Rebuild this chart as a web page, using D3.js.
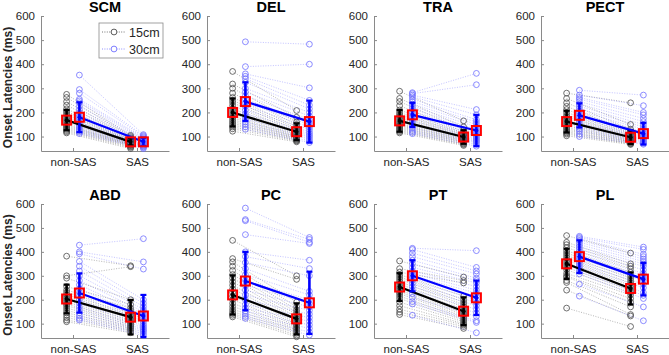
<!DOCTYPE html>
<html>
<head>
<meta charset="utf-8">
<script src="https://cdn.jsdelivr.net/npm/d3@7"></script>
<style>
  body { margin: 0; background: #fff; }
  svg { font-family: "Liberation Sans", Arial, sans-serif; }
</style>
</head>
<body>
<div id="chart"></div>
<script>
// categories / labels
const muscles = ["SCM", "DEL", "TRA", "PECT", "ABD", "PC", "PT", "PL"];
const conditions = ["non-SAS", "SAS"];
const distances = ["15cm", "30cm"];
const yTicks = [100, 200, 300, 400, 500, 600];

// group means read from the red squares (15cm / 30cm, non-SAS / SAS)
const mean15Non = [168, 200, 165, 162, 203, 220, 253, 350];
const mean15Sas = [78, 120, 98, 97, 127, 120, 152, 247];
const mean30Non = [180, 245, 190, 188, 228, 278, 300, 380];
const mean30Sas = [78, 162, 125, 112, 132, 187, 208, 286];
// error bar half lengths (SD)
const sd15Non = [42, 58, 45, 45, 60, 82, 58, 63];
const sd15Sas = [15, 35, 28, 28, 72, 65, 58, 67];
const sd30Non = [62, 80, 50, 50, 82, 122, 65, 68];
const sd30Sas = [17, 87, 65, 45, 88, 130, 72, 68];

// individual subjects, one array per muscle / distance / condition
const scm15Non = [275, 262, 245, 230, 215, 205, 198, 190, 180, 172, 165, 158, 150, 145, 140, 135, 130, 125, 120, 115];
const scm15Sas = [105, 100, 95, 92, 88, 85, 82, 80, 78, 76, 74, 72, 70, 68, 66, 64, 62, 58, 55, 50];
const scm30Non = [355, 295, 280, 255, 248, 240, 225, 212, 200, 190, 180, 170, 160, 152, 145, 138, 130, 125, 118, 112];
const scm30Sas = [108, 104, 100, 96, 92, 88, 85, 82, 79, 76, 74, 72, 70, 68, 65, 62, 60, 57, 54, 50];

const del15Non = [370, 318, 300, 280, 262, 250, 240, 228, 215, 205, 195, 185, 178, 170, 162, 155, 148, 140, 132, 122];
const del15Sas = [208, 180, 160, 150, 142, 135, 128, 122, 118, 112, 108, 104, 100, 97, 94, 91, 88, 85, 82, 78];
const del30Non = [493, 390, 360, 350, 340, 325, 300, 285, 270, 255, 240, 225, 210, 195, 185, 172, 160, 150, 140, 130];
const del30Sas = [483, 400, 302, 250, 230, 215, 200, 185, 170, 160, 150, 140, 130, 120, 112, 105, 98, 90, 82, 75];

const tra15Non = [288, 258, 245, 228, 210, 200, 192, 185, 178, 170, 162, 155, 150, 145, 140, 135, 130, 125, 120, 115];
const tra15Sas = [165, 140, 128, 120, 115, 110, 106, 102, 98, 95, 92, 89, 86, 83, 80, 77, 74, 70, 67, 63];
const tra30Non = [282, 278, 272, 265, 255, 245, 235, 225, 215, 205, 195, 185, 175, 165, 155, 145, 135, 125, 118, 112];
const tra30Sas = [362, 315, 212, 190, 170, 160, 150, 140, 130, 122, 115, 108, 102, 96, 90, 85, 80, 75, 68, 60];

const pect15Non = [280, 258, 240, 225, 212, 200, 190, 182, 175, 168, 160, 152, 145, 138, 132, 126, 120, 115, 110, 103];
const pect15Sas = [240, 150, 130, 120, 115, 110, 105, 101, 98, 95, 92, 89, 86, 83, 80, 78, 75, 72, 70, 67];
const pect30Non = [292, 272, 262, 255, 245, 235, 225, 215, 205, 195, 185, 175, 165, 155, 145, 138, 130, 122, 110, 100];
const pect30Sas = [272, 228, 200, 190, 175, 162, 150, 140, 130, 120, 112, 105, 100, 95, 90, 85, 80, 76, 72, 68];

const abd15Non = [382, 300, 290, 255, 240, 230, 220, 212, 205, 198, 190, 182, 175, 165, 155, 145, 135, 125, 115, 108];
const abd15Sas = [342, 338, 200, 180, 165, 155, 145, 138, 130, 122, 115, 108, 102, 96, 90, 85, 80, 75, 70, 62];
const abd30Non = [428, 400, 392, 360, 340, 320, 300, 280, 262, 245, 230, 215, 200, 185, 170, 158, 145, 132, 122, 115];
const abd30Sas = [455, 358, 328, 200, 185, 172, 160, 150, 140, 130, 120, 110, 100, 92, 85, 78, 72, 66, 58, 50];

const pc15Non = [448, 372, 358, 340, 322, 305, 290, 275, 260, 245, 230, 215, 200, 185, 172, 160, 150, 142, 135, 128];
const pc15Sas = [300, 285, 190, 170, 158, 148, 138, 128, 120, 112, 105, 98, 92, 86, 80, 74, 68, 60, 52, 45];
const pc30Non = [583, 535, 530, 472, 400, 380, 355, 330, 305, 280, 260, 240, 220, 200, 180, 165, 152, 140, 130, 122];
const pc30Sas = [460, 452, 440, 435, 365, 330, 300, 235, 220, 200, 185, 170, 155, 140, 125, 110, 95, 80, 65, 52];

const pt15Non = [362, 330, 315, 305, 295, 285, 275, 265, 255, 248, 240, 232, 225, 215, 205, 190, 175, 160, 148, 138];
const pt15Sas = [295, 280, 270, 215, 200, 190, 180, 170, 160, 152, 145, 138, 130, 122, 115, 108, 100, 95, 88, 80];
const pt30Non = [415, 410, 395, 380, 365, 350, 335, 320, 310, 300, 290, 280, 268, 255, 240, 225, 210, 192, 182, 135];
const pt30Sas = [405, 335, 320, 308, 290, 280, 270, 255, 240, 228, 215, 200, 188, 175, 160, 145, 130, 112, 105, 62];

const pl15Non = [468, 440, 430, 418, 405, 395, 385, 375, 365, 355, 345, 335, 325, 310, 300, 295, 280, 272, 240, 165];
const pl15Sas = [395, 350, 340, 330, 315, 300, 290, 280, 270, 260, 250, 240, 230, 220, 205, 190, 170, 138, 132, 88];
const pl30Non = [465, 460, 455, 448, 440, 430, 420, 410, 400, 390, 380, 370, 360, 350, 340, 330, 318, 308, 265, 215];
const pl30Sas = [420, 410, 390, 380, 370, 360, 350, 340, 325, 310, 300, 290, 280, 265, 250, 230, 218, 205, 170, 112];

const subjects = [
  [scm15Non, scm15Sas, scm30Non, scm30Sas],
  [del15Non, del15Sas, del30Non, del30Sas],
  [tra15Non, tra15Sas, tra30Non, tra30Sas],
  [pect15Non, pect15Sas, pect30Non, pect30Sas],
  [abd15Non, abd15Sas, abd30Non, abd30Sas],
  [pc15Non, pc15Sas, pc30Non, pc30Sas],
  [pt15Non, pt15Sas, pt30Non, pt30Sas],
  [pl15Non, pl15Sas, pl30Non, pl30Sas]
];

// layout
const width = 669, height = 355;
const panelLeft = [41, 207, 374, 541];
const panelW = 128;
const rows = [{top: 16, bottom: 151}, {top: 204, bottom: 338}];

const svg = d3.select("#chart").append("svg")
  .attr("width", width)
  .attr("height", height);

const series = [
  {dist: "15cm", off: -0.1, dot: "#555555", circ: "#4a4a4a", main: "#000000", op: 0.6},
  {dist: "30cm", off: 0.1, dot: "#7373ff", circ: "#6f6fff", main: "#0000ff", op: 0.6}
];

muscles.forEach((m, k) => {
  const row = rows[Math.floor(k / 4)];
  const left = panelLeft[k % 4];

  const x = d3.scaleLinear().domain([0.5, 2.5]).range([left, left + panelW]);
  const y = d3.scaleLinear().domain([40, 600]).range([row.bottom, row.top]);

  const g = svg.append("g");

  // axes
  const yAxis = g.append("g")
    .attr("transform", `translate(${left},0)`)
    .call(d3.axisLeft(y).tickValues(yTicks).tickSizeInner(-3).tickSizeOuter(0).tickPadding(6));
  const xAxis = g.append("g")
    .attr("transform", `translate(0,${row.bottom})`)
    .call(d3.axisBottom(x).tickValues([1, 2]).tickFormat((d, i) => conditions[i])
      .tickSizeInner(-3).tickSizeOuter(0).tickPadding(6.5));
  [yAxis, xAxis].forEach(a => {
    a.select(".domain").attr("stroke", "#8a8a8a");
    a.selectAll(".tick line").attr("stroke", "#8a8a8a");
    a.selectAll("text").attr("fill", "#262626").style("font-size", "11.5px");
  });

  // title
  g.append("text")
    .attr("x", left + panelW / 2)
    .attr("y", row.top - 4)
    .attr("text-anchor", "middle")
    .style("font-size", "14.5px")
    .style("font-weight", "bold")
    .text(m);

  // y label on the first column
  if (k % 4 === 0) {
    g.append("text")
      .attr("transform", `translate(12,${(row.top + row.bottom) / 2 + 4}) rotate(-90)`)
      .attr("text-anchor", "middle")
      .style("font-size", "12px")
      .style("font-weight", "bold")
      .attr("fill", "#262626")
      .text("Onset Latencies (ms)");
  }

  const sets = subjects[k];
  const means = [[mean15Non[k], mean15Sas[k]], [mean30Non[k], mean30Sas[k]]];
  const sds = [[sd15Non[k], sd15Sas[k]], [sd30Non[k], sd30Sas[k]]];

  // individual subjects
  series.forEach((s, j) => {
    const non = sets[j * 2], sas = sets[j * 2 + 1];
    const pairs = non.map((v, i) => [v, sas[i]]);
    g.append("g").selectAll("line").data(pairs).enter().append("line")
      .attr("x1", x(1 + s.off)).attr("x2", x(2 + s.off))
      .attr("y1", d => y(d[0])).attr("y2", d => y(d[1]))
      .attr("stroke", s.dot).attr("stroke-width", 0.7)
      .attr("stroke-dasharray", "1,1.5").attr("opacity", s.op);
    const pts = [];
    pairs.forEach(p => { pts.push([1, p[0]]); pts.push([2, p[1]]); });
    g.append("g").selectAll("circle").data(pts).enter().append("circle")
      .attr("cx", d => x(d[0] + s.off)).attr("cy", d => y(d[1]))
      .attr("r", 2.9).attr("fill", "none")
      .attr("stroke", s.circ).attr("stroke-width", 0.8);
  });

  // means, error bars
  series.forEach((s, j) => {
    const mg = g.append("g");
    mg.append("line")
      .attr("x1", x(1 + s.off)).attr("x2", x(2 + s.off))
      .attr("y1", y(means[j][0])).attr("y2", y(means[j][1]))
      .attr("stroke", s.main).attr("stroke-width", 2.2);
    [0, 1].forEach(c => {
      const cx = x(c + 1 + s.off);
      const lo = y(means[j][c] - sds[j][c]), hi = y(means[j][c] + sds[j][c]);
      mg.append("line").attr("x1", cx).attr("x2", cx).attr("y1", lo).attr("y2", hi)
        .attr("stroke", s.main).attr("stroke-width", 2.6);
      [lo, hi].forEach(yy => mg.append("line")
        .attr("x1", cx - 3).attr("x2", cx + 3).attr("y1", yy).attr("y2", yy)
        .attr("stroke", s.main).attr("stroke-width", 2.2));
      mg.append("circle").attr("cx", cx).attr("cy", y(means[j][c])).attr("r", 2)
        .attr("fill", s.main);
    });
  });

  // red squares at means
  series.forEach((s, j) => {
    [0, 1].forEach(c => {
      g.append("rect")
        .attr("x", x(c + 1 + s.off) - 4.5).attr("y", y(means[j][c]) - 4.5)
        .attr("width", 9).attr("height", 9)
        .attr("fill", "none").attr("stroke", "#ff0000").attr("stroke-width", 2);
    });
  });

  // legend in the first panel
  if (k === 0) {
    const lg = g.append("g").attr("transform", "translate(99,23)");
    lg.append("rect").attr("width", 64).attr("height", 35)
      .attr("fill", "#fff").attr("stroke", "#8a8a8a").attr("stroke-width", 0.8);
    series.forEach((s, j) => {
      const yy = 9 + j * 17;
      lg.append("line").attr("x1", 3).attr("x2", 27).attr("y1", yy).attr("y2", yy)
        .attr("stroke", s.dot).attr("stroke-width", 0.8).attr("stroke-dasharray", "1,1.4");
      lg.append("circle").attr("cx", 15).attr("cy", yy).attr("r", 2.9)
        .attr("fill", "#fff").attr("stroke", s.circ).attr("stroke-width", 0.9);
      lg.append("text").attr("x", 30).attr("y", yy + 4.5)
        .style("font-size", "12.5px").attr("fill", "#262626").text(distances[j]);
    });
  }
});
</script>
</body>
</html>
